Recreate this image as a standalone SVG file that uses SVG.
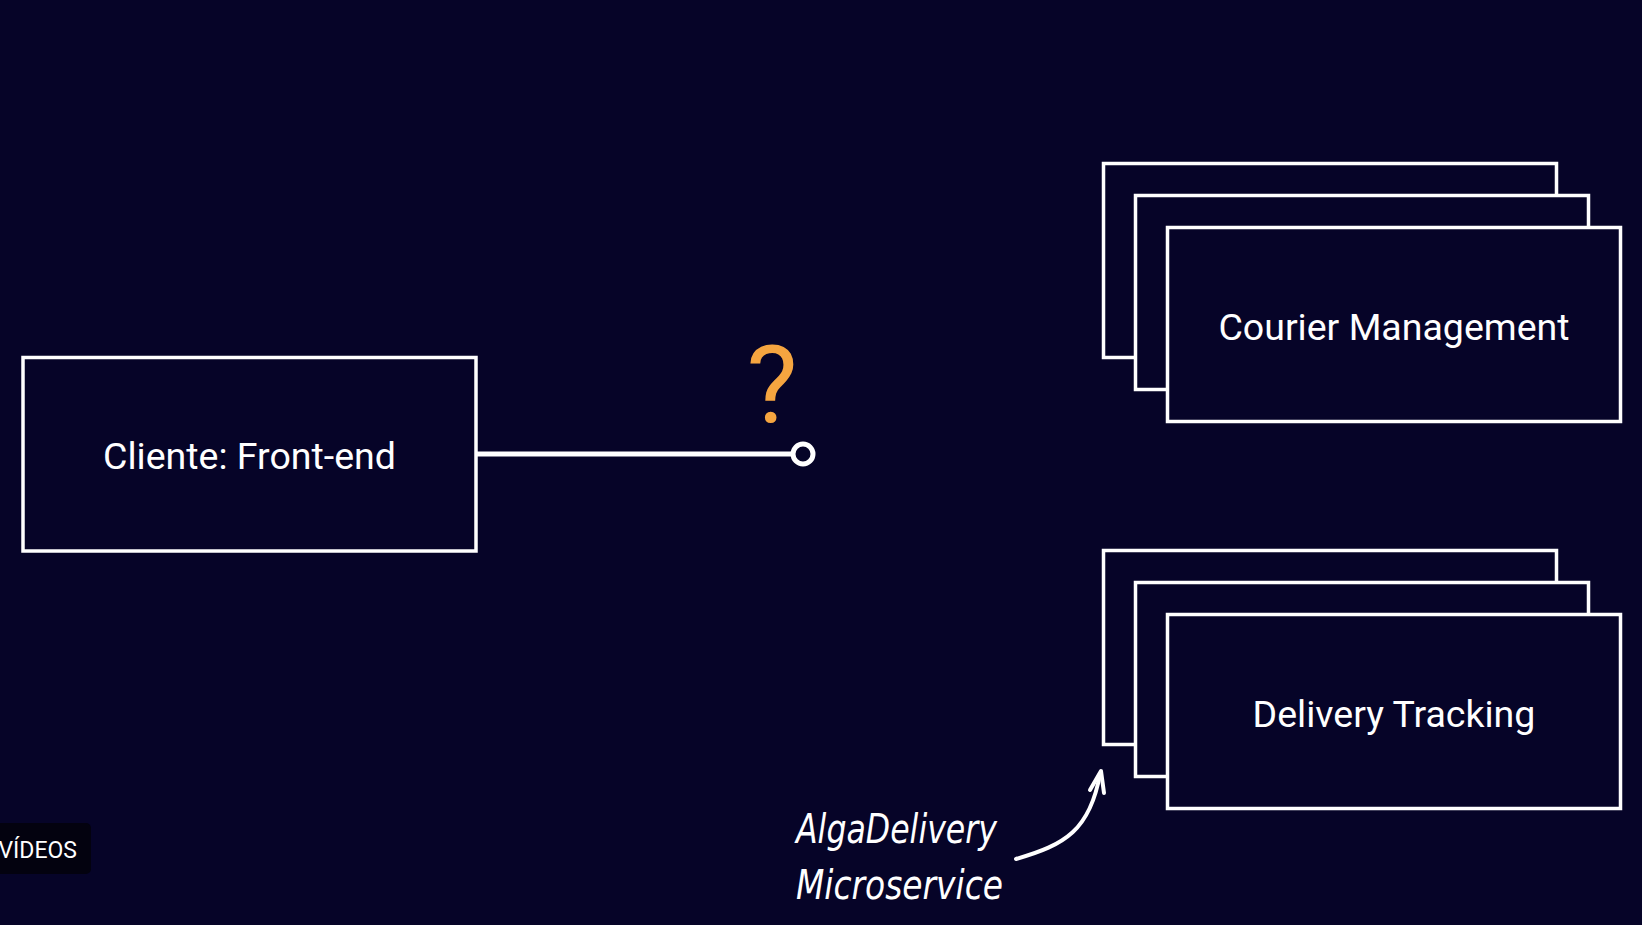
<svg xmlns="http://www.w3.org/2000/svg" width="1642" height="925" viewBox="0 0 1642 925">
<defs>
<style>
.box{fill:#060428;stroke:#ffffff;stroke-width:3.5}
.lbl{fill:#ffffff;font-family:Roboto,"Liberation Sans",sans-serif;font-size:37.5px;text-anchor:middle;dominant-baseline:central}
.hand{fill:#ffffff;font-family:"DejaVu Sans Condensed","Liberation Sans",sans-serif;font-style:italic;font-size:41px}
</style>
</defs>
<rect x="0" y="0" width="1642" height="925" fill="#060428"/>
<g id="connectors">
<line x1="476" y1="454" x2="793" y2="454" stroke="#ffffff" stroke-width="5"/>
<circle cx="803" cy="454" r="10" fill="#060428" stroke="#ffffff" stroke-width="5"/>
<path d="M1016 859 C1065 845 1090 830 1100 774" fill="none" stroke="#ffffff" stroke-width="4" stroke-linecap="round"/>
<path d="M1090 790 L1101 771 L1104 793" fill="none" stroke="#ffffff" stroke-width="4" stroke-linecap="round" stroke-linejoin="round"/>
</g>
<g id="question">
<text x="772" y="422" fill="#f5a540" font-family="Roboto,'Liberation Sans',sans-serif" font-size="108" text-anchor="middle">?</text>
</g>
<g id="cliente">
<rect class="box" x="23" y="357.5" width="453" height="193.5"/>
<text class="lbl" x="249.5" y="456">Cliente: Front-end</text>
</g>
<g id="courier-management">
<rect class="box" x="1103.5" y="163.5" width="453" height="194"/>
<rect class="box" x="1135.5" y="195.5" width="453" height="194"/>
<rect class="box" x="1167.5" y="227.5" width="453" height="194"/>
<text class="lbl" x="1394" y="327">Courier Management</text>
</g>
<g id="delivery-tracking">
<rect class="box" x="1103.5" y="550.5" width="453" height="194"/>
<rect class="box" x="1135.5" y="582.5" width="453" height="194"/>
<rect class="box" x="1167.5" y="614.5" width="453" height="194"/>
<text class="lbl" x="1394" y="714">Delivery Tracking</text>
</g>
<g id="note">
<text class="hand" x="796" y="843" textLength="201" lengthAdjust="spacingAndGlyphs">AlgaDelivery</text>
<text class="hand" x="796" y="899" textLength="207" lengthAdjust="spacingAndGlyphs">Microservice</text>
</g>
<g id="badge">
<rect x="-10" y="823" width="101" height="51" rx="5" fill="#03020f"/>
<text x="77" y="850" fill="#ffffff" font-family="Roboto,'Liberation Sans',sans-serif" font-size="23" text-anchor="end" dominant-baseline="central">VÍDEOS</text>
</g>
</svg>
